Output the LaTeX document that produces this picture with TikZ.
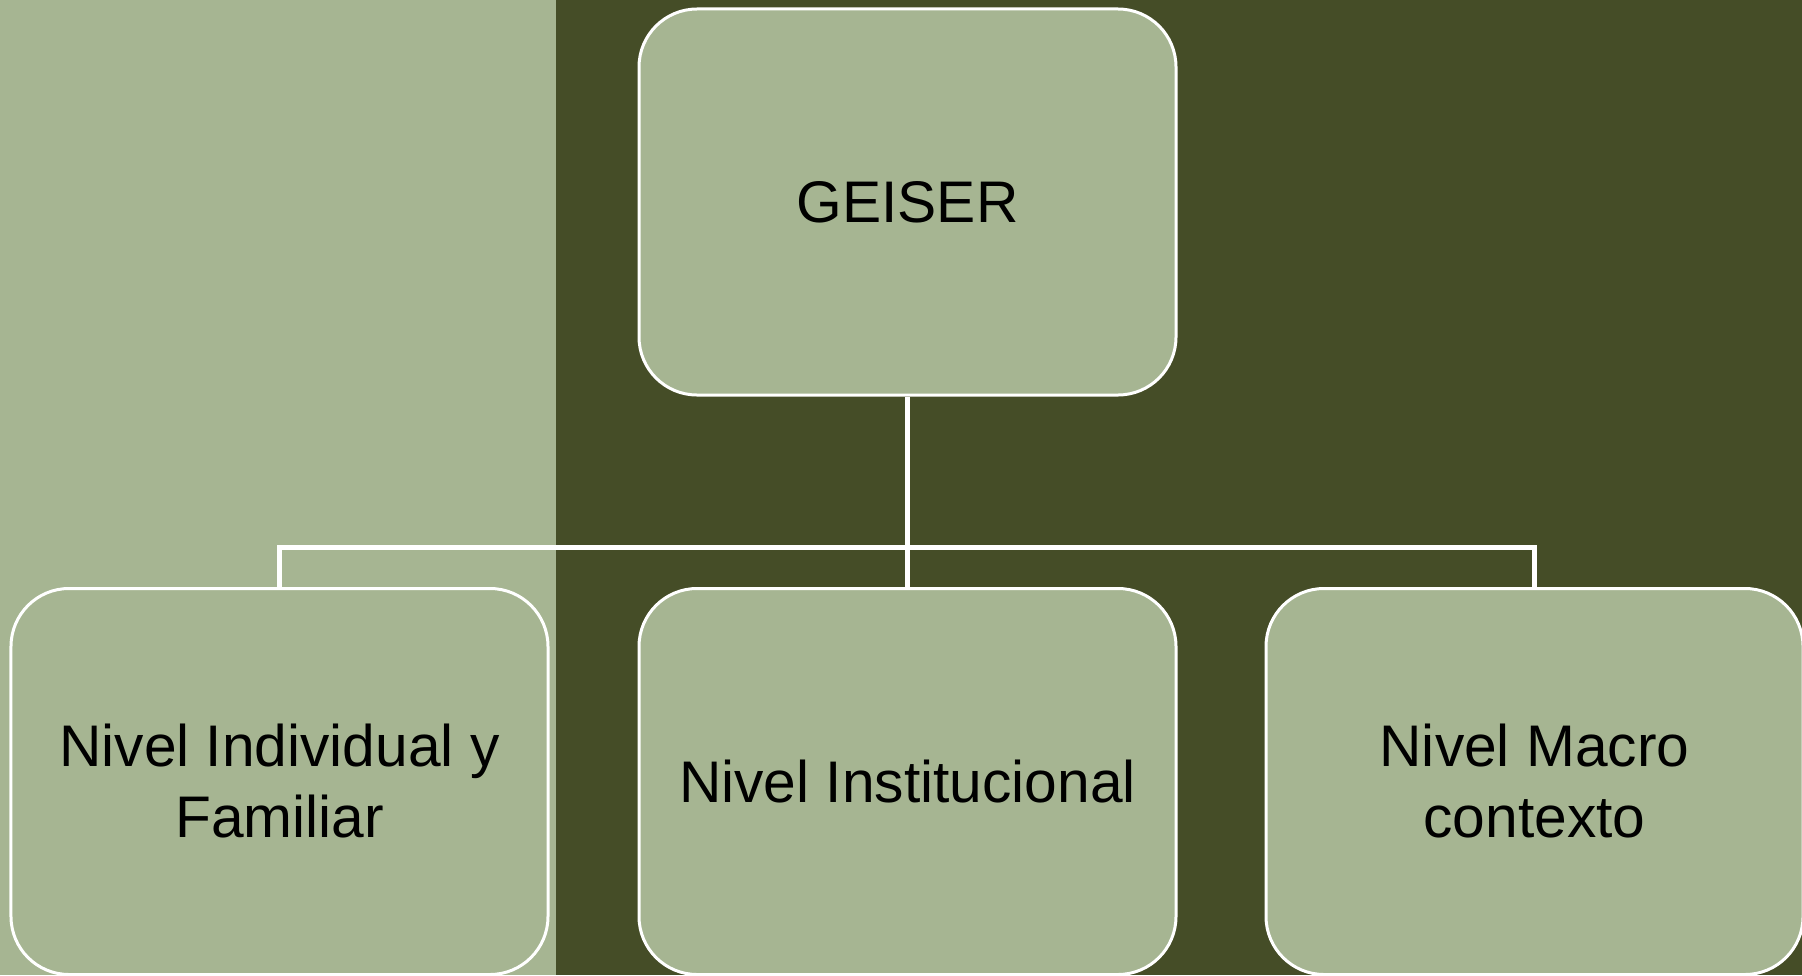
\documentclass[tikz,border=0pt]{standalone}
\usepackage{fontspec}
\setmainfont{Liberation Sans}
\usetikzlibrary{positioning, calc}
\definecolor{sage}{RGB}{166,181,146}
\definecolor{olive}{RGB}{69,77,39}

\begin{document}
\begin{tikzpicture}[x=1bp, y=1bp,
    level/.style={rectangle,
      draw=white,
      line width=3bp,
      fill=sage,
      rounded corners=58bp,
      minimum width=537bp,
      minimum height=386bp,
      align=center,
      font=\fontsize{58.7bp}{71bp}\selectfont},
    link/.style={draw=white, line width=5bp}]
  \useasboundingbox (0,0) rectangle (1802,-975);

  % background panels
  \fill[sage] (0,0) rectangle (556,-975);
  \fill[olive] (556,0) rectangle (1802,-975);

  \node [level] (geiser) at (907.5,-202) {GEISER};

  \node [level] (inst) at (907.5,-781.5) {Nivel Institucional};

  \node [level, left=88bp of inst] (indiv) {Nivel Individual y\\Familiar};

  \node [level, right=87bp of inst] (macro) {Nivel Macro\\contexto};

% CONNECTORS

  \coordinate (bus) at ($(inst.north) + (0,40)$);
  \draw[link] (geiser.south) -- (inst.north);
  \draw[link] (indiv.north) |- (bus) -| (macro.north);

\end{tikzpicture}
\end{document}
